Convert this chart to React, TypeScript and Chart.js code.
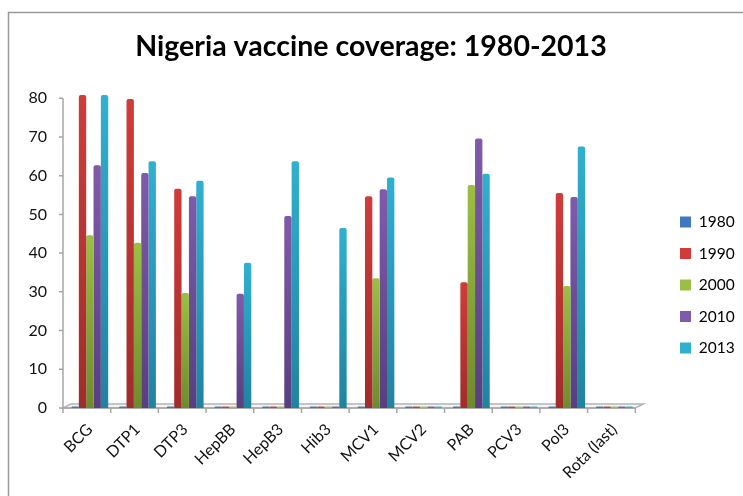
import React, { useEffect, useRef } from "react";
import { Chart, registerables } from "chart.js";

Chart.register(...registerables);

const titleText = "Nigeria vaccine coverage: 1980-2013";
const categories = ["BCG", "DTP1", "DTP3", "HepBB", "HepB3", "Hib3", "MCV1", "MCV2", "PAB", "PCV3", "Pol3", "Rota (last)"];
const yTicks = [0, 10, 20, 30, 40, 50, 60, 70, 80];
const seriesNames = ["1980", "1990", "2000", "2010", "2013"];
const values1980 = [0, 0, 0, 0, 0, 0, 0, 0, 0, 0, 0, 0];
const values1990 = [80.8, 79.8, 56.6, 0, 0, 0, 54.7, 0, 32.5, 0, 55.5, 0];
const values2000 = [44.6, 42.7, 29.7, 0, 0, 0, 33.5, 0, 57.6, 0, 31.5, 0];
const values2010 = [62.7, 60.7, 54.7, 29.5, 49.6, 0, 56.5, 0, 69.6, 0, 54.5, 0];
const values2013 = [80.8, 63.7, 58.7, 37.5, 63.7, 46.5, 59.5, 0, 60.5, 0, 67.5, 0];
const allValues = [values1980, values1990, values2000, values2010, values2013];
const darkColors = ["#2a5a94", "#a02c2c", "#6f8a2e", "#573f80", "#1f83a0"];
const midColors = ["#3f78bd", "#d03c3a", "#9bbf44", "#7f5ba9", "#30b0d0"];
const font = "Lato, Carlito, Calibri, sans-serif";

const CAT_PCT = 0.77;
const SHIFT = 3;

const decor = {
  id: "decor",
  afterLayout(chart: any) {
    const l = chart.legend;
    if (!l) return;
    const dx = 680 - 16 - l.left;
    const dy = 285 - (l.top + l.bottom) / 2;
    l.left += dx;
    l.right += dx;
    l.top += dy;
    l.bottom += dy;
  },
  beforeDraw(chart: any) {
    const { ctx, chartArea: a, scales } = chart;
    const y = scales.y;
    const left = a.left - SHIFT;
    const right = a.right - SHIFT;
    const bottom = a.bottom;
    ctx.save();
    // outer frame
    ctx.strokeStyle = "#999999";
    ctx.lineWidth = 1.5;
    ctx.strokeRect(8.5, 12.5, chart.width + 20, chart.height + 20);
    // floor
    ctx.fillStyle = "#f4f4f6";
    ctx.strokeStyle = "#b4b4b4";
    ctx.lineWidth = 1.5;
    ctx.beginPath();
    ctx.moveTo(left, bottom);
    ctx.lineTo(left + 8, bottom - 4);
    ctx.lineTo(right + 8, bottom - 4);
    ctx.lineTo(right, bottom);
    ctx.closePath();
    ctx.fill();
    ctx.stroke();
    // axes
    ctx.strokeStyle = "#a6a6a6";
    ctx.beginPath();
    ctx.moveTo(left, y.getPixelForValue(80));
    ctx.lineTo(left, bottom);
    ctx.lineTo(right, bottom);
    yTicks.forEach((t) => {
      const p = y.getPixelForValue(t);
      ctx.moveTo(left - 4, p);
      ctx.lineTo(left, p);
    });
    for (let i = 0; i <= categories.length; i++) {
      const p = left + (i * (right - left)) / categories.length;
      ctx.moveTo(p, bottom);
      ctx.lineTo(p, bottom + 5);
    }
    ctx.stroke();
    ctx.restore();
  },
};

function barFill(context: any) {
  const ds = context.datasetIndex;
  const chart = context.chart;
  const ys = chart.scales.y;
  const v = context.parsed?.y;
  if (v === undefined || !ys || !chart.chartArea || !v) return midColors[ds];
  const g = chart.ctx.createLinearGradient(0, ys.getPixelForValue(v), 0, ys.getPixelForValue(0));
  g.addColorStop(0, midColors[ds]);
  g.addColorStop(1, darkColors[ds]);
  return g;
}

export default function App() {
  const ref = useRef<HTMLCanvasElement>(null);
  useEffect(() => {
    document.body.style.margin = "0";
    const chart = new Chart(ref.current!, {
      type: "bar",
      data: {
        labels: categories,
        datasets: allValues.map((v, i) => ({
          label: seriesNames[i],
          data: v,
          backgroundColor: barFill,
          borderWidth: 0,
          borderRadius: { topLeft: 2, topRight: 2, bottomLeft: 0, bottomRight: 0 },
          borderSkipped: false,
          minBarLength: 1.5,
          clip: false as any,
          categoryPercentage: CAT_PCT,
          barPercentage: 1,
        })),
      },
      options: {
        responsive: false,
        animation: false,
        devicePixelRatio: 1,
        layout: { padding: { left: 23, right: 24, top: 30, bottom: 0 } },
        plugins: {
          tooltip: { enabled: false },
          title: {
            display: true,
            text: titleText,
            color: "#000",
            font: { family: font, size: 28.5, weight: "bold" },
            padding: { top: 0, bottom: 34 },
          },
          legend: {
            position: "right",
            labels: {
              boxWidth: 11,
              boxHeight: 11,
              padding: 16,
              color: "#111",
              font: { family: font, size: 15.5 },
              generateLabels: () =>
                seriesNames.map((n, i) => ({
                  text: n,
                  fillStyle: midColors[i],
                  strokeStyle: midColors[i],
                  lineWidth: 0,
                  datasetIndex: i,
                })),
            },
          },
        },
        scales: {
          x: {
            grid: { display: false },
            border: { display: false },
            afterFit: (s: any) => {
              s.height = 88;
            },
            ticks: {
              minRotation: 45,
              maxRotation: 45,
              color: "#111",
              padding: 4,
              font: { family: font, size: 16 },
            },
          },
          y: {
            min: 0,
            max: 80,
            grid: { display: false },
            border: { display: false },
            afterFit: (s: any) => {
              s.width = 43;
            },
            afterBuildTicks: (s: any) => {
              s.ticks = yTicks.map((value) => ({ value }));
            },
            ticks: { color: "#111", padding: 11, font: { family: font, size: 16 } },
          },
        },
      },
      plugins: [decor],
    });
    return () => chart.destroy();
  }, []);
  return (
    <canvas
      ref={ref}
      width={743}
      height={496}
      style={{ display: "block", width: 743, height: 496 }}
    />
  );
}
